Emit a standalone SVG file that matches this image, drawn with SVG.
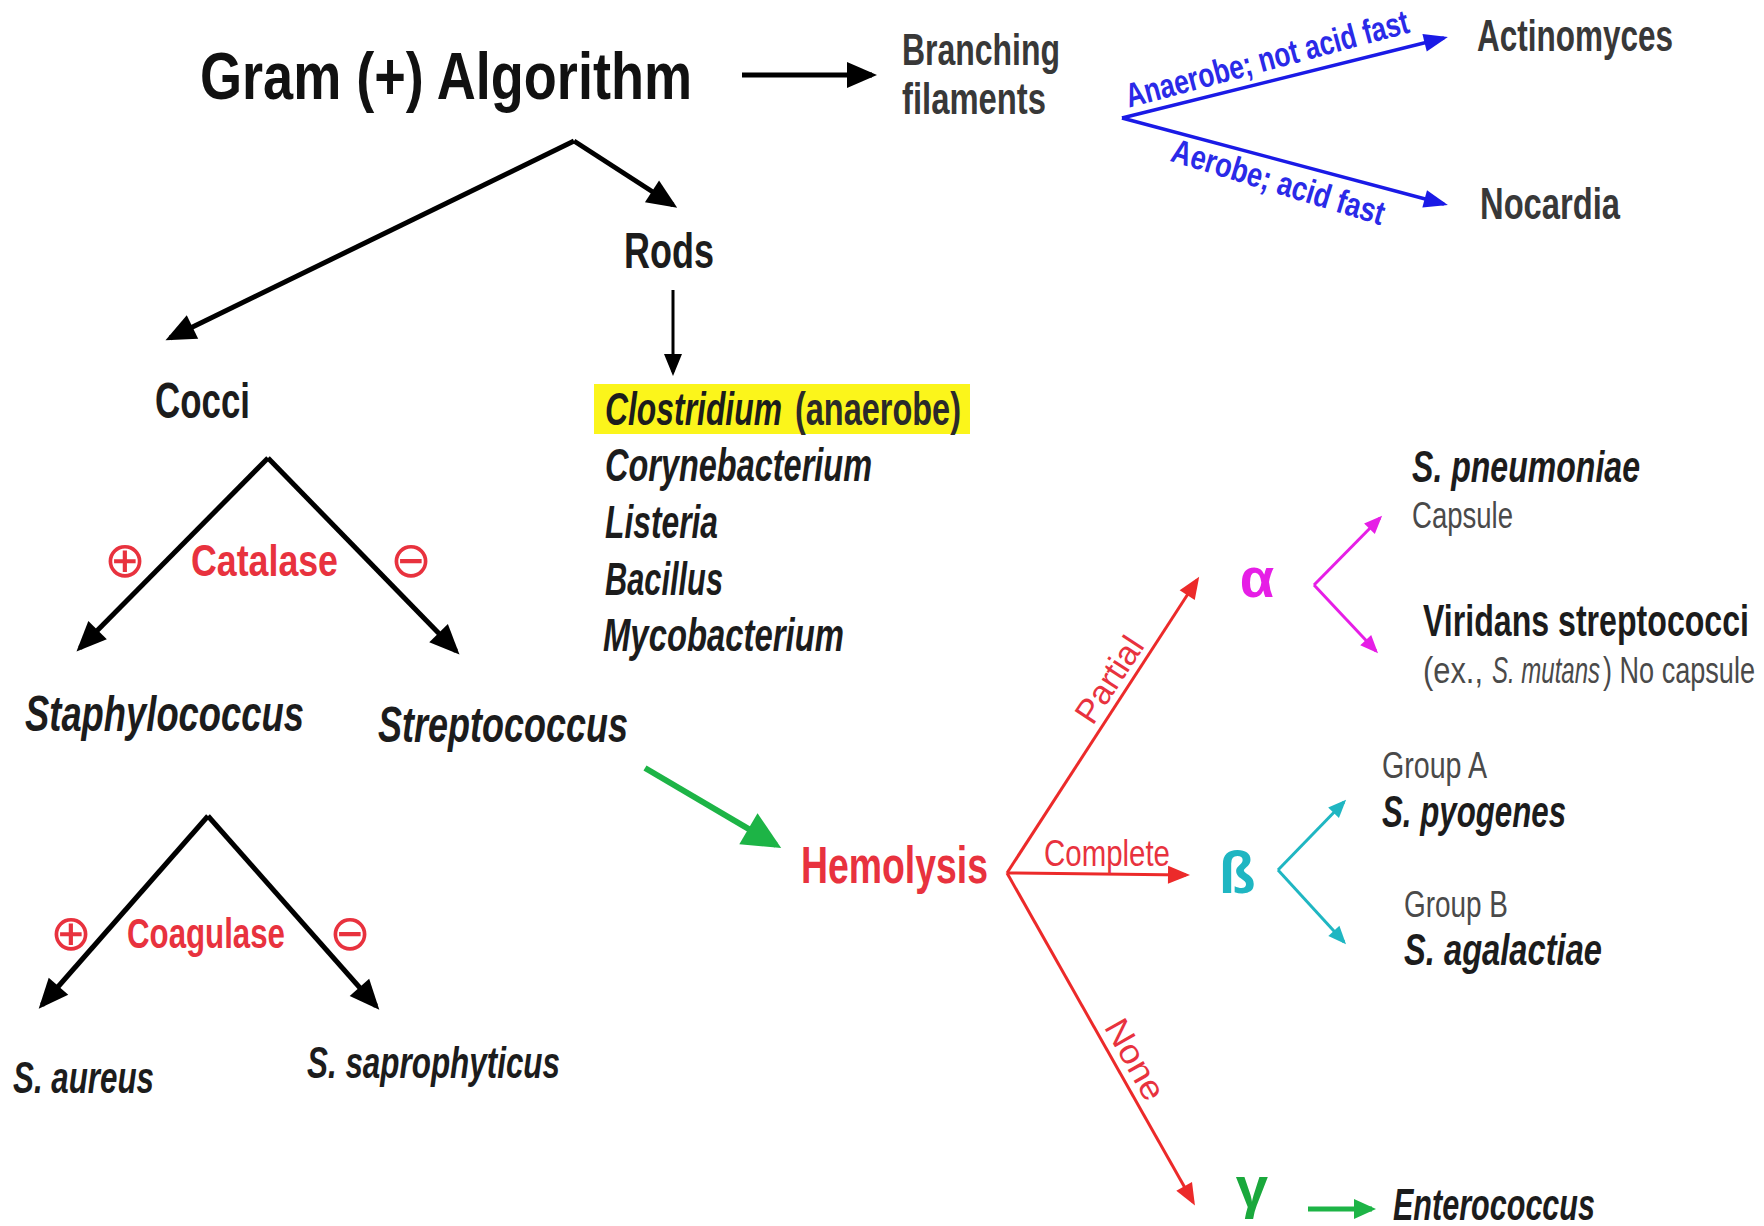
<svg xmlns="http://www.w3.org/2000/svg" width="1764" height="1226" viewBox="0 0 1764 1226">
<defs>
<style>
text{font-family:"Liberation Sans Narrow","Liberation Sans",Arial,sans-serif;}
.t{font-weight:bold;fill:#111}
.b{font-weight:bold;fill:#1c1c1c}
.m{font-weight:bold;fill:#383838}
.bi{font-weight:bold;font-style:italic;fill:#1c1c1c}
.r{font-weight:normal;fill:#4a4a4a}
.ri{font-weight:normal;font-style:italic;fill:#4a4a4a}
.red{font-weight:bold;fill:#e8323e}
.redr{font-weight:normal;fill:#e8323e}
.blue{font-weight:bold;fill:#2a2ae8}
.sym{font-family:"DejaVu Sans",sans-serif;fill:#e8323e}
.ln{fill:none}
.k{stroke:#000;stroke-width:5}
.ks{stroke:#000;stroke-width:3}
.bl{stroke:#1a1ae6;stroke-width:3.5}
.rd{stroke:#ec2a2a;stroke-width:3}
.mg{stroke:#e61ee6;stroke-width:3}
.tl{stroke:#1fb6c2;stroke-width:3}
.gr{stroke:#1db446;stroke-width:6}
.gs{stroke:#1db446;stroke-width:5}
</style>
<marker id="ak" markerUnits="userSpaceOnUse" markerWidth="32" markerHeight="28" refX="25" refY="13" orient="auto" overflow="visible"><path d="M0,0 L30,13 L0,26 z" fill="#000"/></marker>
<marker id="aks" markerUnits="userSpaceOnUse" markerWidth="24" markerHeight="20" refX="18" refY="9" orient="auto" overflow="visible"><path d="M0,0 L22,9 L0,18 z" fill="#000"/></marker>
<marker id="ab" markerUnits="userSpaceOnUse" markerWidth="26" markerHeight="20" refX="20" refY="9" orient="auto" overflow="visible"><path d="M0,0 L24,9 L0,18 z" fill="#1a1ae6"/></marker>
<marker id="ar" markerUnits="userSpaceOnUse" markerWidth="24" markerHeight="20" refX="18" refY="9" orient="auto" overflow="visible"><path d="M0,0 L22,9 L0,18 z" fill="#ec2a2a"/></marker>
<marker id="am" markerUnits="userSpaceOnUse" markerWidth="20" markerHeight="16" refX="15" refY="7.5" orient="auto" overflow="visible"><path d="M0,0 L18,7.5 L0,15 z" fill="#e61ee6"/></marker>
<marker id="at" markerUnits="userSpaceOnUse" markerWidth="20" markerHeight="16" refX="15" refY="7.5" orient="auto" overflow="visible"><path d="M0,0 L18,7.5 L0,15 z" fill="#1fb6c2"/></marker>
<marker id="ag" markerUnits="userSpaceOnUse" markerWidth="40" markerHeight="38" refX="32" refY="18" orient="auto" overflow="visible"><path d="M0,0 L38,18 L0,36 z" fill="#1db446"/></marker>
<marker id="ags" markerUnits="userSpaceOnUse" markerWidth="24" markerHeight="22" refX="18" refY="10" orient="auto" overflow="visible"><path d="M0,0 L22,10 L0,20 z" fill="#1db446"/></marker>
</defs>
<rect width="1764" height="1226" fill="#fff"/>

<g id="connectors">
  <path class="ln k" d="M742,75 L872,75" marker-end="url(#ak)"/>
  <path class="ln k" d="M574,141 L170,338" marker-end="url(#ak)"/>
  <path class="ln k" d="M574,141 L673,205" marker-end="url(#ak)"/>
  <path class="ln ks" d="M673,290 L673,372" marker-end="url(#aks)"/>
  <path class="ln k" d="M268,458 L80,648" marker-end="url(#ak)"/>
  <path class="ln k" d="M268,458 L456,651" marker-end="url(#ak)"/>
  <path class="ln k" d="M208,816 L42,1005" marker-end="url(#ak)"/>
  <path class="ln k" d="M208,816 L376,1006" marker-end="url(#ak)"/>
  <path class="ln bl" d="M1122,118 L1444,38" marker-end="url(#ab)"/>
  <path class="ln bl" d="M1122,118 L1444,204" marker-end="url(#ab)"/>
  <path class="ln gr" d="M645,768 L776,845" marker-end="url(#ag)"/>
  <path class="ln rd" d="M1007,873 L1197,580" marker-end="url(#ar)"/>
  <path class="ln rd" d="M1007,873 L1186,875" marker-end="url(#ar)"/>
  <path class="ln rd" d="M1007,873 L1193,1202" marker-end="url(#ar)"/>
  <path class="ln mg" d="M1314,585 L1380,518" marker-end="url(#am)"/>
  <path class="ln mg" d="M1314,585 L1376,651" marker-end="url(#am)"/>
  <path class="ln tl" d="M1278,870 L1344,802" marker-end="url(#at)"/>
  <path class="ln tl" d="M1278,870 L1344,942" marker-end="url(#at)"/>
  <path class="ln gs" d="M1308,1209 L1372,1209" marker-end="url(#ags)"/>
  <text class="blue" font-size="34" text-anchor="middle" textLength="292" lengthAdjust="spacingAndGlyphs" transform="translate(1270,70) rotate(-15)">Anaerobe; not acid fast</text>
  <text class="blue" font-size="34" text-anchor="middle" textLength="221" lengthAdjust="spacingAndGlyphs" transform="translate(1275,193) rotate(17)">Aerobe; acid fast</text>
  <text class="redr" font-size="34" text-anchor="middle" textLength="96" lengthAdjust="spacingAndGlyphs" transform="translate(1119,686) rotate(-56.8)">Partial</text>
  <text class="redr" font-size="36" textLength="126" lengthAdjust="spacingAndGlyphs" x="1044" y="866">Complete</text>
  <text class="redr" font-size="34" text-anchor="middle" textLength="88" lengthAdjust="spacingAndGlyphs" transform="translate(1125,1065) rotate(60.6)">None</text>
  <text class="sym" font-size="50" text-anchor="middle" x="125" y="577">⊕</text>
  <text class="sym" font-size="50" text-anchor="middle" x="411" y="577">⊖</text>
  <text class="red" font-size="44" textLength="147" lengthAdjust="spacingAndGlyphs" x="191" y="576">Catalase</text>
  <text class="sym" font-size="50" text-anchor="middle" x="71" y="950">⊕</text>
  <text class="sym" font-size="50" text-anchor="middle" x="350" y="950">⊖</text>
  <text class="red" font-size="42" textLength="158" lengthAdjust="spacingAndGlyphs" x="127" y="948">Coagulase</text>
</g>

<g id="title"><text class="t" font-size="66" textLength="492" lengthAdjust="spacingAndGlyphs" x="200" y="99">Gram (+) Algorithm</text></g>
<g id="branching">
  <text class="m" font-size="44" textLength="158" lengthAdjust="spacingAndGlyphs" x="902" y="65">Branching</text>
  <text class="m" font-size="44" textLength="144" lengthAdjust="spacingAndGlyphs" x="902" y="114">filaments</text>
</g>
<g id="actinomyces"><text class="m" font-size="44" textLength="196" lengthAdjust="spacingAndGlyphs" x="1477" y="51">Actinomyces</text></g>
<g id="nocardia"><text class="m" font-size="44" textLength="140" lengthAdjust="spacingAndGlyphs" x="1480" y="219">Nocardia</text></g>
<g id="rods"><text class="b" font-size="50" textLength="90" lengthAdjust="spacingAndGlyphs" x="624" y="268">Rods</text></g>
<g id="rod-list">
  <rect x="594" y="384" width="376" height="50" fill="#fbf51b"/>
  <text class="bi" font-size="46" textLength="177" lengthAdjust="spacingAndGlyphs" x="605" y="425">Clostridium</text>
  <text class="b" font-size="46" textLength="166" lengthAdjust="spacingAndGlyphs" x="795" y="425" style="fill:#2a2a2a">(anaerobe)</text>
  <text class="bi" font-size="46" textLength="267" lengthAdjust="spacingAndGlyphs" x="605" y="481">Corynebacterium</text>
  <text class="bi" font-size="46" textLength="113" lengthAdjust="spacingAndGlyphs" x="605" y="538">Listeria</text>
  <text class="bi" font-size="46" textLength="118" lengthAdjust="spacingAndGlyphs" x="605" y="595">Bacillus</text>
  <text class="bi" font-size="46" textLength="241" lengthAdjust="spacingAndGlyphs" x="603" y="651">Mycobacterium</text>
</g>
<g id="cocci"><text class="b" font-size="50" textLength="95" lengthAdjust="spacingAndGlyphs" x="155" y="418">Cocci</text></g>
<g id="staphylococcus"><text class="bi" font-size="50" textLength="279" lengthAdjust="spacingAndGlyphs" x="25" y="731">Staphylococcus</text></g>
<g id="streptococcus"><text class="bi" font-size="50" textLength="250" lengthAdjust="spacingAndGlyphs" x="378" y="742">Streptococcus</text></g>
<g id="s-aureus"><text class="bi" font-size="44" textLength="141" lengthAdjust="spacingAndGlyphs" x="13" y="1093">S. aureus</text></g>
<g id="s-saprophyticus"><text class="bi" font-size="44" textLength="253" lengthAdjust="spacingAndGlyphs" x="307" y="1078">S. saprophyticus</text></g>
<g id="hemolysis"><text class="red" font-size="52" textLength="187" lengthAdjust="spacingAndGlyphs" x="801" y="883">Hemolysis</text></g>
<g id="alpha"><text font-size="56" text-anchor="middle" x="1257" y="597" style="font-weight:bold;fill:#e61ee6">α</text></g>
<g id="beta"><text font-size="60" text-anchor="middle" x="1237" y="893" style="font-weight:bold;fill:#1fb6c2">ß</text></g>
<g id="gamma"><text font-size="58" text-anchor="middle" x="1252" y="1207" style="font-weight:bold;fill:#1aa83c">γ</text></g>
<g id="s-pneumoniae">
  <text class="bi" font-size="44" textLength="228" lengthAdjust="spacingAndGlyphs" x="1412" y="482">S. pneumoniae</text>
  <text class="r" font-size="36" textLength="101" lengthAdjust="spacingAndGlyphs" x="1412" y="528">Capsule</text>
</g>
<g id="viridans">
  <text class="b" font-size="44" textLength="326" lengthAdjust="spacingAndGlyphs" x="1423" y="636">Viridans streptococci</text>
  <text class="r" font-size="36" textLength="60" lengthAdjust="spacingAndGlyphs" x="1423" y="683">(ex.,</text>
  <text class="ri" font-size="36" textLength="108" lengthAdjust="spacingAndGlyphs" x="1492" y="683">S. mutans</text>
  <text class="r" font-size="36" textLength="152" lengthAdjust="spacingAndGlyphs" x="1603" y="683">) No capsule</text>
</g>
<g id="s-pyogenes">
  <text class="r" font-size="36" textLength="105" lengthAdjust="spacingAndGlyphs" x="1382" y="778">Group A</text>
  <text class="bi" font-size="44" textLength="184" lengthAdjust="spacingAndGlyphs" x="1382" y="827">S. pyogenes</text>
</g>
<g id="s-agalactiae">
  <text class="r" font-size="36" textLength="104" lengthAdjust="spacingAndGlyphs" x="1404" y="917">Group B</text>
  <text class="bi" font-size="44" textLength="198" lengthAdjust="spacingAndGlyphs" x="1404" y="965">S. agalactiae</text>
</g>
<g id="enterococcus"><text class="bi" font-size="44" textLength="202" lengthAdjust="spacingAndGlyphs" x="1393" y="1220">Enterococcus</text></g>
</svg>
